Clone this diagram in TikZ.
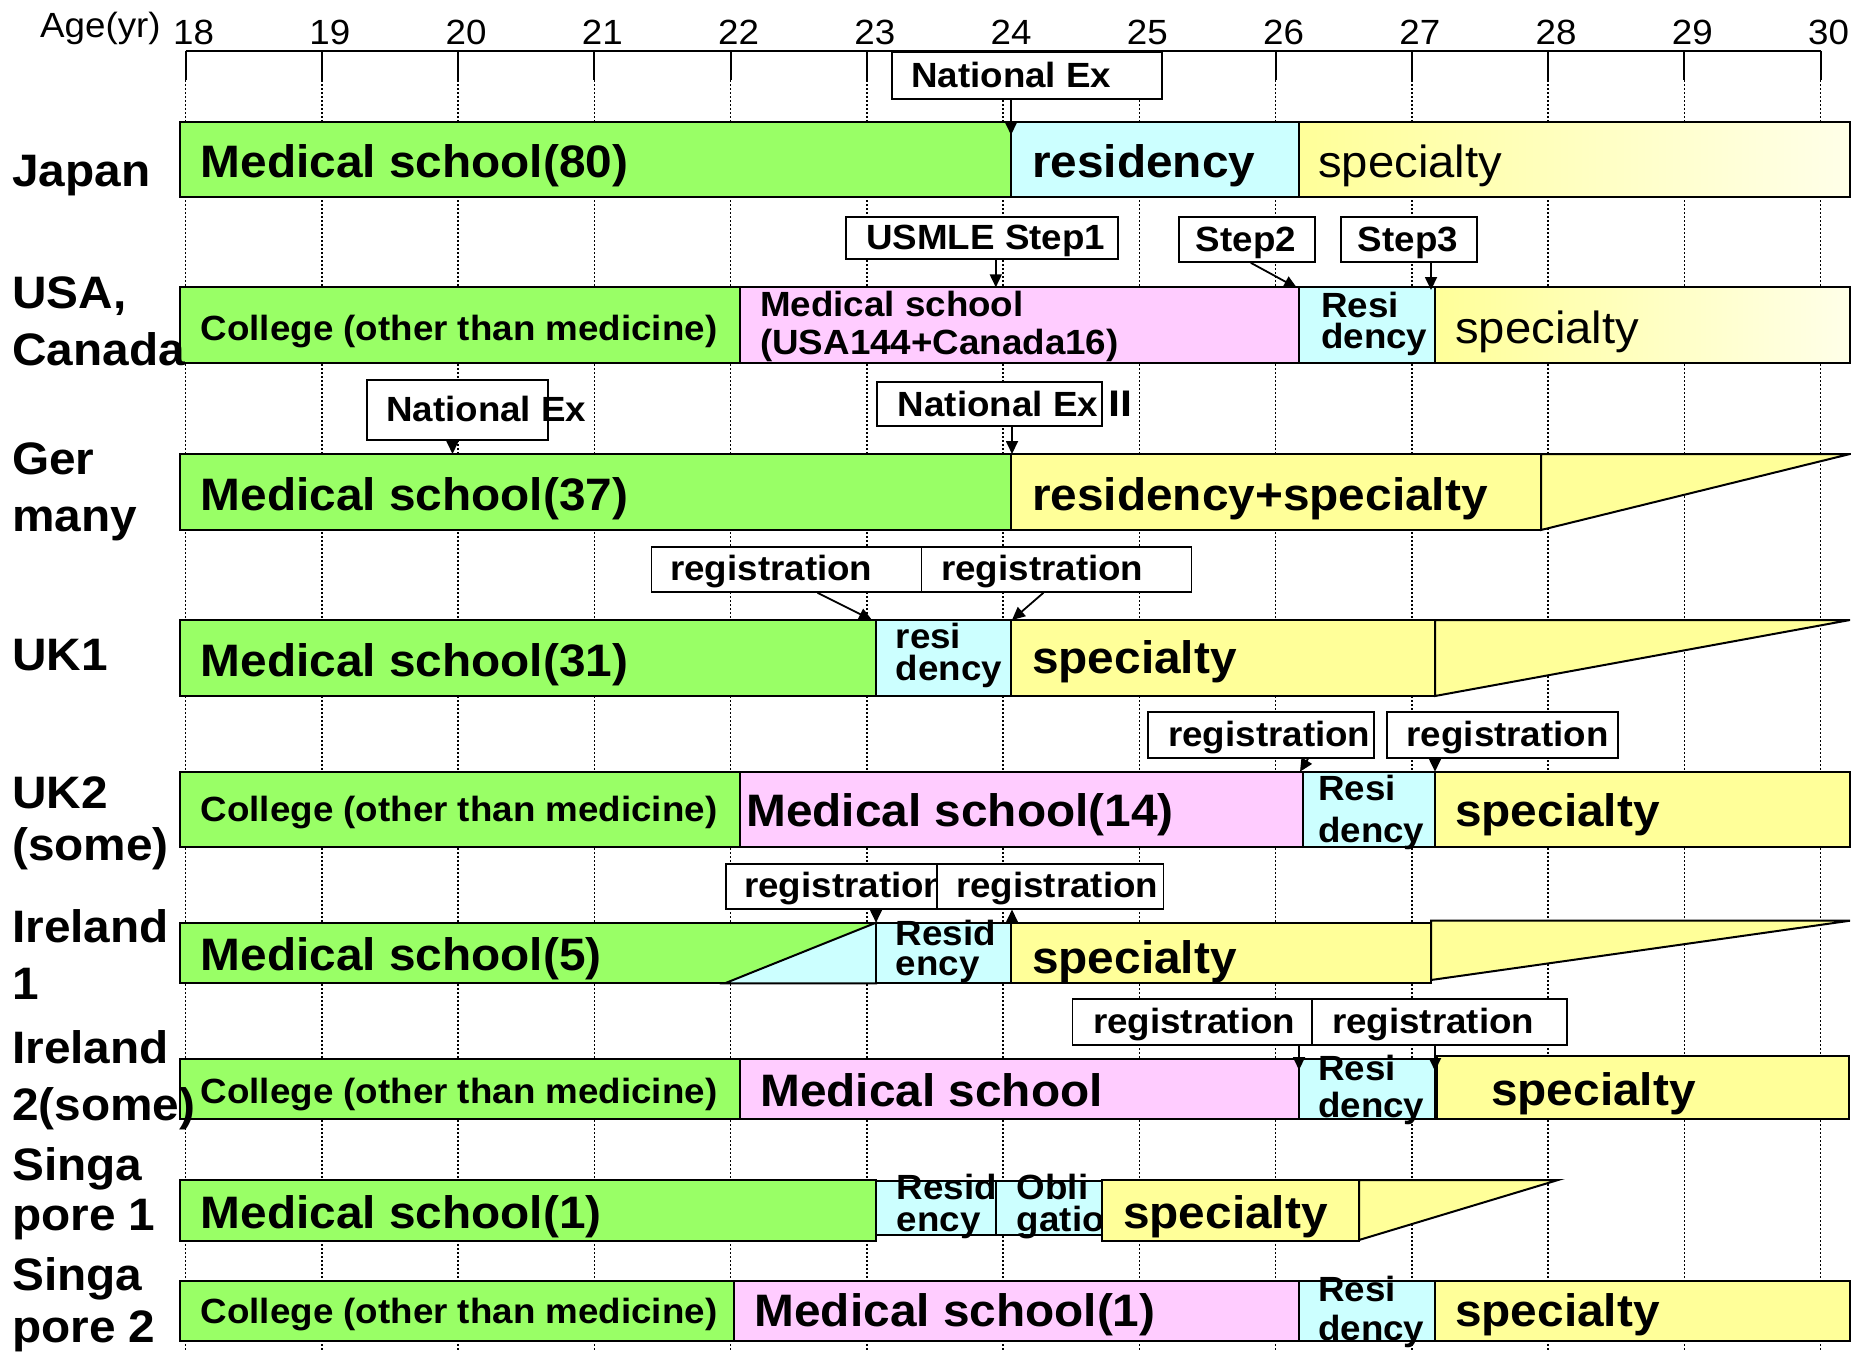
\documentclass[tikz,border=0pt]{standalone}
\usepackage{fontspec}
\setmainfont{Liberation Sans}[FakeStretch=1.05]
\newfontfamily\cjkfont{Noto Sans CJK JP}
\usetikzlibrary{arrows.meta}

\definecolor{medgreen}{HTML}{99FF66}
\definecolor{resblue}{HTML}{CCFFFF}
\definecolor{schpink}{HTML}{FFCCFF}
\definecolor{specyel}{HTML}{FFFF99}
\definecolor{specpale}{HTML}{FFFFE8}

\tikzset{
  cell/.style={draw=black, line width=2pt},
  gridline/.style={line width=1.5pt, dash pattern=on 1.5pt off 2.5pt},
  agenum/.style={font=\fontsize{35}{35}\selectfont, anchor=base, inner sep=0pt},
  cellbig/.style={font=\bfseries\fontsize{45.5}{45.5}\selectfont, anchor=base west, inner sep=0pt},
  cellthin/.style={font=\fontsize{45}{45}\selectfont, anchor=base west, inner sep=0pt},
  cellsmall/.style={font=\bfseries\fontsize{35}{#1}\selectfont, anchor=base west, inner sep=0pt, align=left},
  cellsmall/.default=32,
  rowlabel/.style={font=\bfseries\fontsize{45.5}{#1}\selectfont, anchor=base west, inner sep=0pt, align=left},
  rowlabel/.default=57,
  notebox/.style={draw, fill=white, line width=1.8pt, anchor=north west, inner sep=0pt},
  notetext/.style={font=\bfseries\fontsize{35}{35}\selectfont, anchor=base west, inner sep=0pt},
  callout/.style={line width=1.8pt, -{Triangle[length=13pt, width=12pt]}},
}

\begin{document}
\begin{tikzpicture}[x=1pt, y=-1pt]
	\useasboundingbox (0,0) rectangle (1851,1352);

	% age grid
	\foreach \a in {0,...,12} {
		\draw[gridline] (185.6+136.25*\a, 80) -- (185.6+136.25*\a, 1352);
	}
	\draw[line width=2pt] (185.6,50.7) -- (1820.6,50.7);
	\foreach \a [evaluate=\a as \xa using 185.6+136.25*(\a-18)] in {18,...,30} {
		\draw[line width=2pt] (\xa,50.7) -- (\xa,80);
		\node[agenum] (age\a) at (\xa+8,44) {\a};
	}
	\node[agenum, anchor=base west] (agelbl) at (40,37) {Age(yr)};

	% Japan
	\draw[cell, fill=medgreen] (179.7,121.7) rectangle (1011,197.3);
	\draw[cell, fill=resblue] (1011,121.7) rectangle (1299,197.3);
	\draw[cell, left color=specyel, right color=specpale] (1299,121.7) rectangle (1850,197.3);
	\node[notebox, minimum width=270pt, minimum height=47.6pt] (jaEx) at (890.8,50.7) {};
	\node[notetext] (jaExT) at (911,87) {National Ex};
	\coordinate (jaTip) at (1011,135);
	\draw[callout] (jaEx.south -| jaTip) -- (jaTip);
	\node[cellbig] (jaMedT) at (200.5,177) {Medical school(80)};
	\node[cellbig] (jaResT) at (1032,177) {residency};
	\node[cellthin] (jaSpecT) at (1318,177) {specialty};
	\node[rowlabel] (jaLbl) at (12,186.7) {Japan};

	% USA, Canada
	\draw[cell, fill=medgreen] (179.7,287.3) rectangle (739.6,362.5);
	\draw[cell, fill=schpink] (739.6,287.3) rectangle (1299,362.5);
	\draw[cell, fill=resblue] (1299,287.3) rectangle (1435,362.5);
	\draw[cell, left color=specyel, right color=specpale] (1435,287.3) rectangle (1850,362.5);
	\node[notebox, minimum width=272pt, minimum height=41.7pt] (usStepA) at (845,216) {};
	\node[notetext] (usStepAT) at (866,249) {USMLE Step1};
	\node[notebox, minimum width=136.3pt, minimum height=45pt] (usStepB) at (1177.7,216) {};
	\node[notetext, anchor=base] (usStepBT) at (1246,251) {Step2};
	\node[notebox, minimum width=136pt, minimum height=45pt] (usStepC) at (1340,216) {};
	\node[notetext, anchor=base] (usStepCT) at (1408,251) {Step3};
	\coordinate (usTipA) at (995.8,287.3);
	\draw[callout] (usStepA.south -| usTipA) -- (usTipA);
	\coordinate (usTipB) at (1297,288);
	\draw[callout] ([xshift=4pt]usStepB.south) -- (usTipB);
	\coordinate (usTipC) at (1431,290);
	\draw[callout] (usStepC.south -| usTipC) -- (usTipC);
	\node[cellsmall] (usColT) at (200.5,340) {College (other than medicine)};
	\node[cellsmall=38] (usMedT) at (760,354.7) {Medical school\\(USA144+Canada16)};
	\node[cellsmall=31] (usResT) at (1321,348.3) {Resi\\dency};
	\node[cellthin] (usSpecT) at (1455,343.3) {specialty};
	\node[rowlabel] (usLbl) at (12,365) {USA,\\Canada};

	% Germany
	\draw[cell, fill=medgreen] (179.7,454) rectangle (1011,530);
	\draw[cell, fill=specyel] (1011,454) rectangle (1541,530);
	\draw[cell, fill=specyel] (1541,454) -- (1850,454) -- (1541,530) -- cycle;
	\node[notebox, minimum width=181pt, minimum height=60.3pt] (geExA) at (366,379) {};
	\node[notetext] (geExAT) at (386,421.7) {National Ex};
	\node[notebox, minimum width=225pt, minimum height=44pt] (geExB) at (875.7,381) {};
	\node[notetext] (geExBT) at (897.7,416.7) {National Ex\hspace{5pt}{\cjkfont\bfseries\fontsize{34}{34}\selectfont Ⅱ}};
	\coordinate (geTipA) at (452.5,454);
	\draw[callout] (geExA.south -| geTipA) -- (geTipA);
	\coordinate (geTipB) at (1012,454);
	\draw[callout] (geExB.south -| geTipB) -- (geTipB);
	\node[cellbig] (geMedT) at (200.5,510) {Medical school(37)};
	\node[cellbig] (geResT) at (1032,510) {residency+specialty};
	\node[rowlabel] (geLbl) at (12,531) {Ger\\many};

	% UK1
	\draw[cell, fill=medgreen] (179.7,620) rectangle (876,696);
	\draw[cell, fill=resblue] (876,620) rectangle (1011,696);
	\draw[cell, fill=specyel] (1011,620) rectangle (1435,696);
	\draw[cell, fill=specyel] (1435,620) -- (1850,620) -- (1435,696) -- cycle;
	\node[notebox, minimum width=270pt, minimum height=45.3pt] (ukRegA) at (650.6,545.7) {};
	\node[notetext] (ukRegAT) at (670,580) {registration};
	\node[notebox, minimum width=270pt, minimum height=45.3pt] (ukRegB) at (920.5,545.7) {};
	\node[notetext] (ukRegBT) at (941,580) {registration};
	\coordinate (ukTipA) at (872,620);
	\draw[callout] ([xshift=31pt]ukRegA.south) -- (ukTipA);
	\coordinate (ukTipB) at (1012,620);
	\draw[callout] ([xshift=-13pt]ukRegB.south) -- (ukTipB);
	\node[cellbig] (ukMedT) at (200.5,676.7) {Medical school(31)};
	\node[cellsmall] (ukResT) at (895.6,680) {resi\\dency};
	\node[cellbig] (ukSpecT) at (1032,673) {specialty};
	\node[rowlabel] (ukLbl) at (12,670) {UK1};

	% UK2
	\draw[cell, fill=medgreen] (179.7,771.7) rectangle (739.6,847.3);
	\draw[cell, fill=schpink] (739.6,771.7) rectangle (1303,847.3);
	\draw[cell, fill=resblue] (1303,771.7) rectangle (1435,847.3);
	\draw[cell, fill=specyel] (1435,771.7) rectangle (1850,847.3);
	\node[notebox, minimum width=225.6pt, minimum height=45.7pt] (ukbRegA) at (1147.4,711) {};
	\node[notetext] (ukbRegAT) at (1168,746) {registration};
	\node[notebox, minimum width=230.6pt, minimum height=45.7pt] (ukbRegB) at (1386.4,711) {};
	\node[notetext] (ukbRegBT) at (1406.4,746) {registration};
	\coordinate (ukbTipA) at (1300,771.7);
	\draw[callout] ([xshift=47pt]ukbRegA.south) -- (ukbTipA);
	\coordinate (ukbTipB) at (1435,771.7);
	\draw[callout] (ukbRegB.south -| ukbTipB) -- (ukbTipB);
	\node[cellsmall] (ukbColT) at (200.5,821.7) {College (other than medicine)};
	\node[cellbig] (ukbMedT) at (746,826.7) {Medical school(14)};
	\node[cellsmall=42] (ukbResT) at (1318,842) {Resi\\dency};
	\node[cellbig] (ukbSpecT) at (1455,826.7) {specialty};
	\node[rowlabel=52] (ukbLbl) at (12,860) {UK2\\(some)};

	% Ireland 1
	\draw[cell, fill=medgreen] (179.7,922.7) rectangle (876,983.3);
	\draw[cell, fill=resblue] (724.8,983.3) -- (876,922.7) -- (876,983.3) -- cycle;
	\draw[cell, fill=resblue] (876,922.7) rectangle (1011,983.3);
	\draw[cell, fill=specyel] (1011,922.7) rectangle (1431,983.3);
	\draw[cell, fill=specyel] (1431,920.7) -- (1850,920.7) -- (1431,980) -- cycle;
	\node[notebox, minimum width=240pt, minimum height=45pt] (irRegA) at (724.8,862.7) {};
	\node[notetext] (irRegAT) at (744,897.2) {registration};
	\node[notebox, minimum width=226.2pt, minimum height=45pt] (irRegB) at (936.4,862.7) {};
	\node[notetext] (irRegBT) at (955.8,897.2) {registration};
	\coordinate (irTipA) at (876,922.7);
	\draw[callout] (irRegA.south -| irTipA) -- (irTipA);
	\coordinate (irTipB) at (1012,922.7);
	\draw[callout] (irTipB) -- (irRegB.south -| irTipB);
	\node[cellbig] (irMedT) at (200.5,970) {Medical school(5)};
	\node[cellsmall=30] (irResT) at (895.6,975) {Resid\\ency};
	\node[cellbig] (irSpecT) at (1032,973.3) {specialty};
	\node[rowlabel] (irLbl) at (12,999) {Ireland\\1};

	% Ireland 2
	\draw[cell, fill=medgreen] (179.7,1059.3) rectangle (739.6,1119.3);
	\draw[cell, fill=schpink] (739.6,1059.3) rectangle (1299,1119.3);
	\draw[cell, fill=resblue] (1299,1059.3) rectangle (1435,1119.3);
	\draw[cell, fill=specyel] (1437,1056) rectangle (1849,1119.3);
	\node[notebox, minimum width=239.4pt, minimum height=45.7pt] (irbRegA) at (1071.6,998.3) {};
	\node[notetext] (irbRegAT) at (1092.8,1033.3) {registration};
	\node[notebox, minimum width=254.9pt, minimum height=45.7pt] (irbRegB) at (1311,998.3) {};
	\node[notetext] (irbRegBT) at (1331.8,1033.3) {registration};
	\coordinate (irbTipA) at (1299,1070);
	\draw[callout] (irbRegA.south -| irbTipA) -- (irbTipA);
	\coordinate (irbTipB) at (1435,1071);
	\draw[callout] (irbRegB.south -| irbTipB) -- (irbTipB);
	\node[cellsmall] (irbColT) at (200.5,1103.3) {College (other than medicine)};
	\node[cellbig] (irbMedT) at (760,1106.7) {Medical school};
	\node[cellsmall=37] (irbResT) at (1318,1117) {Resi\\dency};
	\node[cellbig] (irbSpecT) at (1491,1105) {specialty};
	\node[rowlabel] (irbLbl) at (12,1120.5) {Ireland\\2(some)};

	% Singapore 1
	\draw[cell, fill=medgreen] (179.7,1180) rectangle (876,1240.7);
	\draw[cell, fill=resblue] (876,1181) rectangle (996,1235);
	\draw[cell, fill=resblue] (996,1181) rectangle (1102,1235);
	\node[cellsmall=32.4] (sgResT) at (896.7,1231.7) {Resid\\ency};
	\node[cellsmall=32.4] (sgOblT) at (1016.7,1231.7) {Obli\\gatio};
	\draw[cell, fill=specyel] (1102,1180) rectangle (1359,1240.7);
	\draw[cell, fill=specyel] (1359,1180) -- (1558,1180) -- (1359,1240) -- cycle;
	\node[cellbig] (sgMedT) at (200.5,1228.3) {Medical school(1)};
	\node[cellbig] (sgSpecT) at (1123,1228.3) {specialty};
	\node[rowlabel=50] (sgLbl) at (12,1230) {Singa\\pore 1};

	% Singapore 2
	\draw[cell, fill=medgreen] (179.7,1280.7) rectangle (733.7,1340.7);
	\draw[cell, fill=schpink] (733.7,1280.7) rectangle (1299,1340.7);
	\draw[cell, fill=resblue] (1299,1280.7) rectangle (1435,1340.7);
	\draw[cell, fill=specyel] (1435,1280.7) rectangle (1850,1340.7);
	\node[cellsmall] (sgbColT) at (200.5,1323) {College (other than medicine)};
	\node[cellbig] (sgbMedT) at (754.4,1326.7) {Medical school(1)};
	\node[cellsmall=38.3] (sgbResT) at (1318,1340) {Resi\\dency};
	\node[cellbig] (sgbSpecT) at (1455,1326.7) {specialty};
	\node[rowlabel=52] (sgbLbl) at (12,1342) {Singa\\pore 2};

\end{tikzpicture}
\end{document}
